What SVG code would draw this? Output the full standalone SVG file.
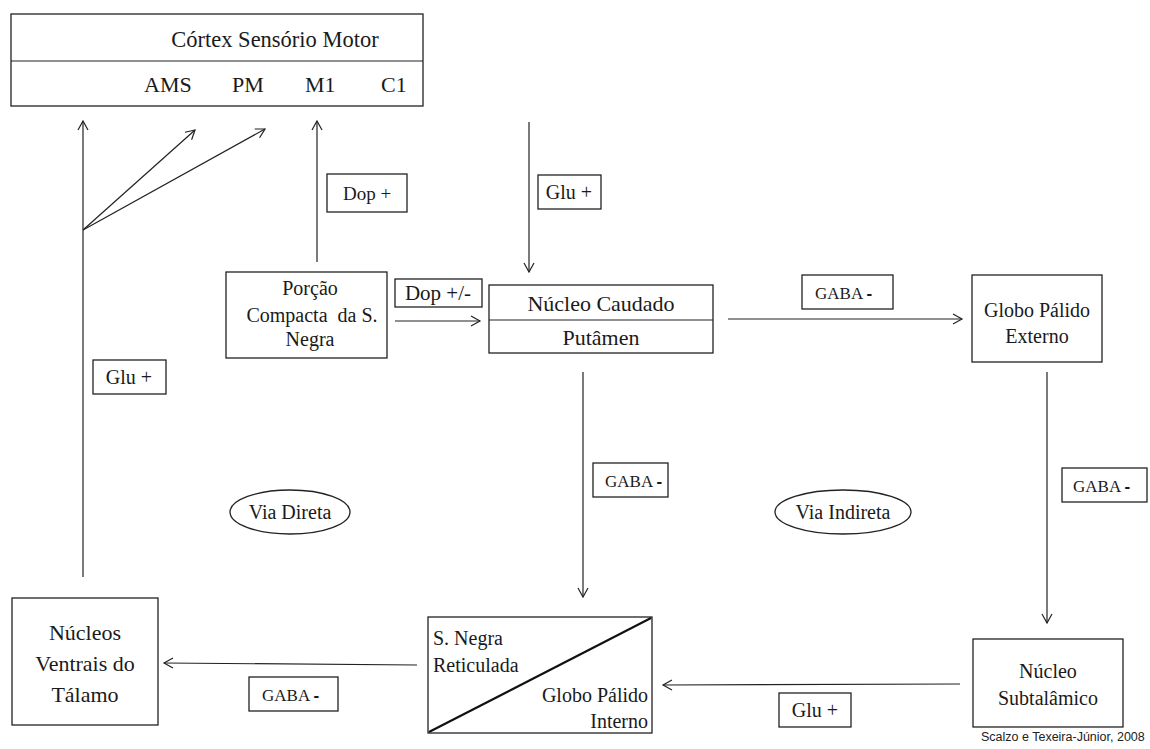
<svg xmlns="http://www.w3.org/2000/svg" width="1150" height="749" viewBox="0 0 1150 749">
<style>
.box{fill:#fff;stroke:#222;stroke-width:1.3}
.ln{fill:none;stroke:#222;stroke-width:1.2}
.t{fill:#1a1a1a}
.c{text-anchor:middle}
</style>
<defs>
<marker id="ah" viewBox="-10 -6 12 12" refX="0" refY="0" markerWidth="12" markerHeight="12" markerUnits="userSpaceOnUse" orient="auto">
<path d="M-9,-5 L0,0 L-9,5" fill="none" stroke="#222" stroke-width="1.2"/>
</marker>
</defs>
<rect width="1150" height="749" fill="#fff"/>

<g id="connectors">
<line class="ln" x1="83" y1="577" x2="83" y2="121" marker-end="url(#ah)"/>
<line class="ln" x1="83" y1="230" x2="195" y2="130" marker-end="url(#ah)"/>
<line class="ln" x1="83" y1="230" x2="265" y2="129" marker-end="url(#ah)"/>
<line class="ln" x1="317" y1="262" x2="317" y2="121" marker-end="url(#ah)"/>
<line class="ln" x1="529" y1="122" x2="529" y2="272" marker-end="url(#ah)"/>
<line class="ln" x1="395" y1="321" x2="480" y2="321" marker-end="url(#ah)"/>
<line class="ln" x1="728" y1="319" x2="962" y2="319" marker-end="url(#ah)"/>
<line class="ln" x1="583" y1="372" x2="583" y2="597" marker-end="url(#ah)"/>
<line class="ln" x1="1047" y1="372" x2="1047" y2="623" marker-end="url(#ah)"/>
<line class="ln" x1="960" y1="684" x2="663" y2="685" marker-end="url(#ah)"/>
<line class="ln" x1="417" y1="665" x2="164" y2="663" marker-end="url(#ah)"/>
</g>

<g font-family="'Liberation Serif', serif">
<g id="cortex">
<rect class="box" x="11" y="14" width="412" height="92"/>
<line class="ln" x1="11" y1="61" x2="423" y2="61"/>
<text class="t c" x="275" y="47" font-size="22.5">Córtex Sensório Motor</text>
<text class="t" x="144" y="92" font-size="22">AMS</text>
<text class="t" x="232" y="92" font-size="22">PM</text>
<text class="t" x="305" y="92" font-size="22">M1</text>
<text class="t" x="381" y="92" font-size="22">C1</text>
</g>

<g id="label-dop-plus">
<rect class="box" x="327" y="174" width="80" height="38"/>
<text class="t c" x="367" y="200" font-size="19">Dop +</text>
</g>

<g id="label-glu-top">
<rect class="box" x="538" y="175" width="63" height="34"/>
<text class="t c" x="569" y="199" font-size="20">Glu +</text>
</g>

<g id="label-glu-left">
<rect class="box" x="93" y="360" width="73" height="34"/>
<text class="t c" x="129" y="384" font-size="20">Glu +</text>
</g>

<g id="porcao">
<rect class="box" x="226" y="272" width="161" height="86"/>
<text class="t c" x="310" y="295" font-size="20">Porção</text>
<text class="t c" x="312" y="322" font-size="20" xml:space="preserve">Compacta  da S.</text>
<text class="t c" x="310" y="346" font-size="20">Negra</text>
</g>

<g id="label-dop-pm">
<rect class="box" x="395" y="279" width="87" height="28"/>
<text class="t c" x="438" y="300" font-size="21">Dop +/-</text>
</g>

<g id="caudado">
<rect class="box" x="489" y="285" width="224" height="68"/>
<line class="ln" x1="489" y1="320" x2="713" y2="320"/>
<text class="t c" x="601" y="311" font-size="22">Núcleo Caudado</text>
<text class="t c" x="601" y="345" font-size="22">Putâmen</text>
</g>

<g id="label-gaba-top">
<rect class="box" x="802" y="275" width="91" height="34"/>
<text class="t" x="815" y="299" font-size="17">GABA <tspan font-family="'Liberation Sans', sans-serif" font-weight="bold">-</tspan></text>
</g>

<g id="gpe">
<rect class="box" x="972" y="275" width="130" height="87"/>
<text class="t c" x="1037" y="317" font-size="20">Globo Pálido</text>
<text class="t c" x="1037" y="343" font-size="20">Externo</text>
</g>

<g id="label-gaba-mid">
<rect class="box" x="593" y="463" width="75" height="34"/>
<text class="t" x="605" y="487" font-size="17">GABA <tspan font-family="'Liberation Sans', sans-serif" font-weight="bold">-</tspan></text>
</g>

<g id="label-gaba-right">
<rect class="box" x="1062" y="468" width="85" height="34"/>
<text class="t" x="1073" y="492" font-size="17">GABA <tspan font-family="'Liberation Sans', sans-serif" font-weight="bold">-</tspan></text>
</g>

<g id="via-direta">
<ellipse class="box" cx="290" cy="512" rx="60" ry="22"/>
<text class="t c" x="290" y="519" font-size="20">Via Direta</text>
</g>

<g id="via-indireta">
<ellipse class="box" cx="843" cy="512" rx="68" ry="22"/>
<text class="t c" x="843" y="519" font-size="20">Via Indireta</text>
</g>

<g id="talamo">
<rect class="box" x="12" y="598" width="146" height="127"/>
<text class="t c" x="85" y="640" font-size="22">Núcleos</text>
<text class="t c" x="85" y="671" font-size="22">Ventrais do</text>
<text class="t c" x="85" y="702" font-size="22">Tálamo</text>
</g>

<g id="label-gaba-bottom">
<rect class="box" x="249" y="677" width="89" height="34"/>
<text class="t" x="262" y="701" font-size="17">GABA <tspan font-family="'Liberation Sans', sans-serif" font-weight="bold">-</tspan></text>
</g>

<g id="snr-gpi">
<rect class="box" x="428" y="617" width="224" height="116"/>
<line x1="429" y1="732" x2="651" y2="618" stroke="#111" stroke-width="2.2"/>
<text class="t" x="433" y="645" font-size="20">S. Negra</text>
<text class="t" x="433" y="672" font-size="20">Reticulada</text>
<text class="t" x="648" y="702" font-size="20" text-anchor="end">Globo Pálido</text>
<text class="t" x="648" y="728" font-size="20" text-anchor="end">Interno</text>
</g>

<g id="label-glu-bottom">
<rect class="box" x="779" y="693" width="72" height="34"/>
<text class="t c" x="815" y="717" font-size="20">Glu +</text>
</g>

<g id="subtalamico">
<rect class="box" x="973" y="639" width="150" height="88"/>
<text class="t c" x="1048" y="678" font-size="20">Núcleo</text>
<text class="t c" x="1048" y="705" font-size="20">Subtalâmico</text>
</g>
</g>

<text x="981" y="741" font-family="'Liberation Sans', Arial, sans-serif" font-size="12.5" fill="#222">Scalzo e Texeira-Júnior, 2008</text>
</svg>
